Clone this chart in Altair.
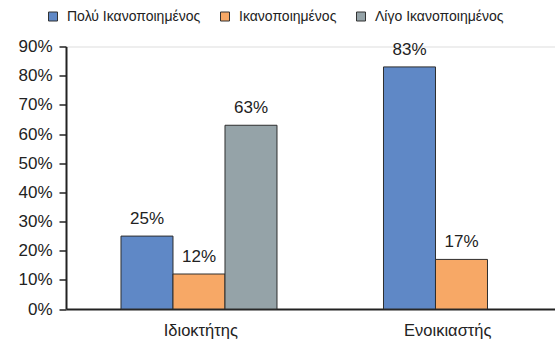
import altair as alt
import pandas as pd

# Satisfaction by tenure type (share of respondents)
categories = ["Ιδιοκτήτης", "Ενοικιαστής"]
series = ["Πολύ Ικανοποιημένος", "Ικανοποιημένος", "Λίγο Ικανοποιημένος"]
owner_values = [0.25, 0.12, 0.63]
renter_values = [0.83, 0.17, None]
colors = ["#5f88c6", "#f7a866", "#95a3a8"]
y_ticks = [0, 0.1, 0.2, 0.3, 0.4, 0.5, 0.6, 0.7, 0.8, 0.9]

rows = []
for cat, vals in zip(categories, [owner_values, renter_values]):
    for s, v in zip(series, vals):
        if v is not None:
            rows.append({"tenure": cat, "level": s, "share": v})
df = pd.DataFrame(rows)
cats_df = pd.DataFrame({"tenure": categories})

FONT = "Liberation Sans"
TEXT = "#222222"

x_scale = alt.Scale(domain=categories, paddingInner=0.4057, paddingOuter=0.1343,
                    align=0.78, round=False)
x_axis = alt.Axis(labels=False, ticks=False, title=None, domainColor=TEXT, domainWidth=2)
x_off = alt.XOffset("level:N", scale=alt.Scale(domain=series, paddingInner=0, paddingOuter=0))
y_axis = alt.Axis(format=".0%", values=y_ticks, grid=False, tickSize=7,
                  tickColor=TEXT, tickWidth=1.5, domainColor=TEXT, domainWidth=2,
                  labelFontSize=17, labelColor=TEXT, labelFont=FONT,
                  labelOverlap=False, labelFlush=False,
                  labelPadding=7, title=None)
y_enc = alt.Y("share:Q", scale=alt.Scale(domain=[0, 0.9], nice=False), axis=y_axis)

bars = alt.Chart(df).mark_bar(stroke="#2e2e2e", strokeWidth=1).encode(
    x=alt.X("tenure:N", scale=x_scale, sort=categories, axis=x_axis),
    xOffset=x_off,
    y=y_enc,
    color=alt.Color("level:N", scale=alt.Scale(domain=series, range=colors),
                    legend=alt.Legend(orient="none", direction="horizontal",
                                      legendX=-20, legendY=-37, padding=0,
                                      title=None, symbolType="square", symbolSize=81,
                                      symbolStrokeColor="#333333", symbolStrokeWidth=1,
                                      labelFontSize=14, labelFont=FONT, labelColor=TEXT,
                                      labelOffset=7, columnPadding=17)),
)

values_text = alt.Chart(df).mark_text(baseline="alphabetic", dy=-12, fontSize=17,
                                      font=FONT, color=TEXT).encode(
    x=alt.X("tenure:N", scale=x_scale, sort=categories, axis=x_axis),
    xOffset=x_off,
    y=y_enc,
    text=alt.Text("share:Q", format=".0%"),
)

main = alt.layer(bars, values_text)

cat_labels = alt.Chart(cats_df).mark_text(baseline="middle", fontSize=16.5, font=FONT,
                                          color=TEXT).encode(
    x=alt.X("tenure:N", sort=categories, axis=None,
            scale=alt.Scale(type="point", domain=categories, padding=0.4899, align=0.557)),
    y=alt.value(284.5),
    text="tenure:N",
)

chart = alt.layer(main, cat_labels).resolve_scale(x="independent").properties(
    width=489, height=262.5,
    autosize=alt.AutoSizeParams(type="none"),
    padding={"left": 66, "top": 46.5, "right": 0, "bottom": 35},
).configure_view(stroke=None).configure(background="white")

chart.save("out.html", embed_options={"renderer": "svg", "actions": False})
